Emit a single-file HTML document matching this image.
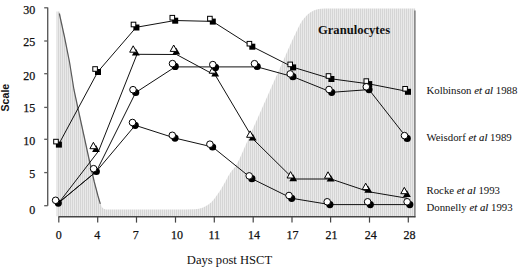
<!DOCTYPE html>
<html><head><meta charset="utf-8"><style>
html,body{margin:0;padding:0;background:#fff;}
body{width:520px;height:268px;overflow:hidden;position:relative;}
svg{position:absolute;left:0;top:0;display:block;}
text{font-family:"Liberation Serif",serif;fill:#111;}
.n{font-size:12px;stroke:#111;stroke-width:0.25px;}
.ax{font-size:12.6px;}
.sc{font-family:"Liberation Sans",sans-serif;font-size:10.6px;font-weight:bold;}
.gr{font-size:12.6px;font-weight:bold;}
.lg{font-size:10.8px;fill:#111;}
</style></head><body>
<svg width="520" height="268" viewBox="0 0 520 268">
<defs><pattern id="hp" width="2" height="3" patternUnits="userSpaceOnUse"><rect width="2" height="3" fill="#e9e9e9"/><rect width="1" height="3" fill="#d5d5d5"/></pattern></defs>
<polygon points="56.5,216.2 56.5,11.5 59.8,11.5 64.9,37.0 69.9,62.0 74.4,90.0 79.6,114.0 84.2,135.0 89.2,158.0 94.7,182.0 98.4,196.0 100.7,203.8 101.8,207.0 103.5,208.7 106.0,209.4 185.0,209.4 195.0,209.3 199.0,208.8 202.5,207.8 205.1,206.6 208.5,204.6 211.6,202.0 214.6,198.6 217.4,194.6 220.4,190.2 223.0,185.7 225.6,181.2 228.0,176.6 231.2,171.5 235.4,166.5 239.0,160.0 242.6,152.0 246.1,144.0 249.7,136.0 253.2,128.0 256.8,120.0 260.4,112.0 263.9,104.0 267.5,96.0 271.0,88.0 274.6,80.0 278.2,72.0 281.7,64.0 285.3,56.0 288.8,48.0 292.4,40.0 297.9,28.6 299.9,24.5 302.0,21.0 304.6,17.8 307.6,14.6 310.6,12.3 313.8,10.6 317.5,9.3 321.0,8.7 325.0,8.5 415.2,8.5 415.2,216.2" fill="url(#hp)"/>
<line x1="414.9" y1="10.5" x2="414.9" y2="217.3" stroke="#777" stroke-width="1.4"/>
<polyline points="59.3,13.5 64.5,37.0 69.5,62.0 74.0,90.0 79.2,114.0 83.8,135.0 88.8,158.0 94.3,182.0 98.0,196.0 100.3,203.8" fill="none" stroke="#5a5a5a" stroke-width="1.2"/>
<path d="M47.7 7.6 V205.7" stroke="#5c5c5c" stroke-width="1.4" fill="none"/>
<path d="M44.2 205.7 H47.7" stroke="#5c5c5c" stroke-width="1.3"/>
<path d="M44.2 172.6 H47.7" stroke="#5c5c5c" stroke-width="1.3"/>
<path d="M44.2 139.3 H47.7" stroke="#5c5c5c" stroke-width="1.3"/>
<path d="M44.2 107.4 H47.7" stroke="#5c5c5c" stroke-width="1.3"/>
<path d="M44.2 73.7 H47.7" stroke="#5c5c5c" stroke-width="1.3"/>
<path d="M44.2 41.0 H47.7" stroke="#5c5c5c" stroke-width="1.3"/>
<path d="M44.2 7.8 H47.7" stroke="#5c5c5c" stroke-width="1.3"/>
<path d="M58.4 216.8 H415.5" stroke="#444" stroke-width="1.4" fill="none"/>
<path d="M58.8 216.8 V222.6" stroke="#444" stroke-width="1.2"/>
<path d="M97.7 216.8 V222.6" stroke="#444" stroke-width="1.2"/>
<path d="M136.5 216.8 V222.6" stroke="#444" stroke-width="1.2"/>
<path d="M175.5 216.8 V222.6" stroke="#444" stroke-width="1.2"/>
<path d="M214.3 216.8 V222.6" stroke="#444" stroke-width="1.2"/>
<path d="M253.2 216.8 V222.6" stroke="#444" stroke-width="1.2"/>
<path d="M292.0 216.8 V222.6" stroke="#444" stroke-width="1.2"/>
<path d="M330.6 216.8 V222.6" stroke="#444" stroke-width="1.2"/>
<path d="M369.5 216.8 V222.6" stroke="#444" stroke-width="1.2"/>
<path d="M408.3 216.8 V222.6" stroke="#444" stroke-width="1.2"/>
<polyline points="58.7,144.4 97.8,71.8 136.2,27.3 175.0,20.5 212.6,21.4 252.1,46.5 292.9,67.2 331.2,78.8 369.0,83.9 407.8,91.5" fill="none" stroke="#111" stroke-width="1.0"/>
<polyline points="58.3,203.1 96.3,171.5 135.7,92.5 175.2,66.9 215.5,66.9 257.2,66.9 292.9,76.7 331.7,92.3 369.0,89.6 407.2,138.4" fill="none" stroke="#111" stroke-width="1.0"/>
<polyline points="58.3,203.1 96.3,171.5 135.2,125.3 175.0,138.1 212.6,147.0 251.9,178.7 291.7,198.3 329.9,204.6 370.3,204.6 409.8,204.6" fill="none" stroke="#111" stroke-width="1.0"/>
<polyline points="58.4,203.3 98.6,151.0 137.0,54.3 176.5,54.5 215.5,75.5 253.5,139.5 293.5,179.0 331.0,179.0 369.0,191.8 407.5,198.3" fill="none" stroke="#111" stroke-width="1.0"/>
<polygon points="96.0,145.0 92.1,151.9 99.9,151.9" fill="#000"/><polygon points="93.4,142.3 89.9,148.7 96.9,148.7" fill="#fff" stroke="#000" stroke-width="1" stroke-linejoin="miter"/>
<polygon points="135.8,48.5 131.9,55.4 139.7,55.4" fill="#000"/><polygon points="133.2,45.8 129.7,52.2 136.7,52.2" fill="#fff" stroke="#000" stroke-width="1" stroke-linejoin="miter"/>
<polygon points="176.3,47.7 172.4,54.6 180.2,54.6" fill="#000"/><polygon points="173.7,45.0 170.2,51.4 177.2,51.4" fill="#fff" stroke="#000" stroke-width="1" stroke-linejoin="miter"/>
<polygon points="215.2,69.5 211.3,76.4 219.1,76.4" fill="#000"/><polygon points="212.6,66.8 209.1,73.2 216.1,73.2" fill="#fff" stroke="#000" stroke-width="1" stroke-linejoin="miter"/>
<polygon points="252.7,133.6 248.8,140.5 256.6,140.5" fill="#000"/><polygon points="250.1,130.9 246.6,137.3 253.6,137.3" fill="#fff" stroke="#000" stroke-width="1" stroke-linejoin="miter"/>
<polygon points="293.2,174.3 289.3,181.2 297.1,181.2" fill="#000"/><polygon points="290.6,171.6 287.1,178.0 294.1,178.0" fill="#fff" stroke="#000" stroke-width="1" stroke-linejoin="miter"/>
<polygon points="330.6,174.5 326.7,181.4 334.5,181.4" fill="#000"/><polygon points="328.0,171.8 324.5,178.2 331.5,178.2" fill="#fff" stroke="#000" stroke-width="1" stroke-linejoin="miter"/>
<polygon points="368.3,185.9 364.4,192.8 372.2,192.8" fill="#000"/><polygon points="365.7,183.2 362.2,189.6 369.2,189.6" fill="#fff" stroke="#000" stroke-width="1" stroke-linejoin="miter"/>
<polygon points="406.9,190.0 403.0,196.9 410.8,196.9" fill="#000"/><polygon points="404.3,187.3 400.8,193.7 407.8,193.7" fill="#fff" stroke="#000" stroke-width="1" stroke-linejoin="miter"/>
<rect x="55.9" y="141.6" width="6.0" height="6.0" fill="#000"/><rect x="53.7" y="139.3" width="4.6" height="4.6" fill="#fff" stroke="#000" stroke-width="1"/>
<rect x="95.0" y="69.0" width="6.0" height="6.0" fill="#000"/><rect x="92.8" y="66.7" width="4.6" height="4.6" fill="#fff" stroke="#000" stroke-width="1"/>
<rect x="133.4" y="24.5" width="6.0" height="6.0" fill="#000"/><rect x="131.2" y="22.2" width="4.6" height="4.6" fill="#fff" stroke="#000" stroke-width="1"/>
<rect x="172.2" y="17.7" width="6.0" height="6.0" fill="#000"/><rect x="170.0" y="15.4" width="4.6" height="4.6" fill="#fff" stroke="#000" stroke-width="1"/>
<rect x="209.8" y="18.6" width="6.0" height="6.0" fill="#000"/><rect x="207.6" y="16.3" width="4.6" height="4.6" fill="#fff" stroke="#000" stroke-width="1"/>
<rect x="249.3" y="43.7" width="6.0" height="6.0" fill="#000"/><rect x="247.1" y="41.4" width="4.6" height="4.6" fill="#fff" stroke="#000" stroke-width="1"/>
<rect x="290.1" y="64.4" width="6.0" height="6.0" fill="#000"/><rect x="287.9" y="62.1" width="4.6" height="4.6" fill="#fff" stroke="#000" stroke-width="1"/>
<rect x="328.4" y="76.0" width="6.0" height="6.0" fill="#000"/><rect x="326.2" y="73.7" width="4.6" height="4.6" fill="#fff" stroke="#000" stroke-width="1"/>
<rect x="366.2" y="81.1" width="6.0" height="6.0" fill="#000"/><rect x="364.0" y="78.8" width="4.6" height="4.6" fill="#fff" stroke="#000" stroke-width="1"/>
<rect x="405.0" y="88.8" width="6.0" height="6.0" fill="#000"/><rect x="402.8" y="86.5" width="4.6" height="4.6" fill="#fff" stroke="#000" stroke-width="1"/>
<circle cx="135.7" cy="92.5" r="3.6" fill="#000"/><circle cx="133.0" cy="89.7" r="3.3" fill="#fff" stroke="#000" stroke-width="1"/>
<circle cx="175.2" cy="66.4" r="3.6" fill="#000"/><circle cx="172.5" cy="63.6" r="3.3" fill="#fff" stroke="#000" stroke-width="1"/>
<circle cx="215.5" cy="67.4" r="3.6" fill="#000"/><circle cx="212.8" cy="64.6" r="3.3" fill="#fff" stroke="#000" stroke-width="1"/>
<circle cx="257.2" cy="66.5" r="3.6" fill="#000"/><circle cx="254.5" cy="63.7" r="3.3" fill="#fff" stroke="#000" stroke-width="1"/>
<circle cx="292.9" cy="76.7" r="3.6" fill="#000"/><circle cx="290.2" cy="73.9" r="3.3" fill="#fff" stroke="#000" stroke-width="1"/>
<circle cx="331.7" cy="92.3" r="3.6" fill="#000"/><circle cx="329.0" cy="89.5" r="3.3" fill="#fff" stroke="#000" stroke-width="1"/>
<circle cx="369.0" cy="89.6" r="3.6" fill="#000"/><circle cx="366.3" cy="86.8" r="3.3" fill="#fff" stroke="#000" stroke-width="1"/>
<circle cx="407.2" cy="138.4" r="3.6" fill="#000"/><circle cx="404.5" cy="135.6" r="3.3" fill="#fff" stroke="#000" stroke-width="1"/>
<circle cx="58.3" cy="203.1" r="3.6" fill="#000"/><circle cx="55.6" cy="200.3" r="3.3" fill="#fff" stroke="#000" stroke-width="1"/>
<circle cx="96.3" cy="171.5" r="3.6" fill="#000"/><circle cx="93.6" cy="168.7" r="3.3" fill="#fff" stroke="#000" stroke-width="1"/>
<circle cx="135.2" cy="125.3" r="3.6" fill="#000"/><circle cx="132.5" cy="122.5" r="3.3" fill="#fff" stroke="#000" stroke-width="1"/>
<circle cx="175.0" cy="138.1" r="3.6" fill="#000"/><circle cx="172.3" cy="135.3" r="3.3" fill="#fff" stroke="#000" stroke-width="1"/>
<circle cx="212.6" cy="147.0" r="3.6" fill="#000"/><circle cx="209.9" cy="144.2" r="3.3" fill="#fff" stroke="#000" stroke-width="1"/>
<circle cx="251.9" cy="178.7" r="3.6" fill="#000"/><circle cx="249.2" cy="175.9" r="3.3" fill="#fff" stroke="#000" stroke-width="1"/>
<circle cx="291.7" cy="198.3" r="3.6" fill="#000"/><circle cx="289.0" cy="195.5" r="3.3" fill="#fff" stroke="#000" stroke-width="1"/>
<circle cx="329.9" cy="204.6" r="3.6" fill="#000"/><circle cx="327.2" cy="201.8" r="3.3" fill="#fff" stroke="#000" stroke-width="1"/>
<circle cx="370.3" cy="204.6" r="3.6" fill="#000"/><circle cx="367.6" cy="201.8" r="3.3" fill="#fff" stroke="#000" stroke-width="1"/>
<circle cx="409.8" cy="204.6" r="3.6" fill="#000"/><circle cx="407.1" cy="201.8" r="3.3" fill="#fff" stroke="#000" stroke-width="1"/>
<text x="35.3" y="213.6" text-anchor="end" class="n">0</text>
<text x="35.3" y="177.8" text-anchor="end" class="n">5</text>
<text x="35.3" y="144.5" text-anchor="end" class="n">10</text>
<text x="35.3" y="112.4" text-anchor="end" class="n">15</text>
<text x="35.3" y="79.7" text-anchor="end" class="n">20</text>
<text x="35.3" y="46.0" text-anchor="end" class="n">25</text>
<text x="35.3" y="13.9" text-anchor="end" class="n">30</text>
<text x="58.7" y="239" text-anchor="middle" class="n">0</text>
<text x="97.3" y="239" text-anchor="middle" class="n">4</text>
<text x="135.8" y="239" text-anchor="middle" class="n">7</text>
<text x="177.1" y="239" text-anchor="middle" class="n">10</text>
<text x="214.3" y="239" text-anchor="middle" class="n">11</text>
<text x="254.1" y="239" text-anchor="middle" class="n">14</text>
<text x="292.4" y="239" text-anchor="middle" class="n">17</text>
<text x="331.6" y="239" text-anchor="middle" class="n">21</text>
<text x="370.8" y="239" text-anchor="middle" class="n">24</text>
<text x="409.4" y="239" text-anchor="middle" class="n">28</text>
<text x="229.5" y="264.3" text-anchor="middle" class="ax">Days post HSCT</text>
<text transform="translate(9.2 97.6) rotate(-90)" text-anchor="middle" class="sc">Scale</text>
<text x="354" y="33.7" text-anchor="middle" class="gr">Granulocytes</text>
<text x="426.5" y="93.8" class="lg">Kolbinson <tspan font-style="italic" stroke="#111" stroke-width="0.12">et al</tspan> 1988</text>
<text x="426.5" y="140.8" class="lg">Weisdorf <tspan font-style="italic" stroke="#111" stroke-width="0.12">et al</tspan> 1989</text>
<text x="426.5" y="194" class="lg">Rocke <tspan font-style="italic" stroke="#111" stroke-width="0.12">et al</tspan> 1993</text>
<text x="426.5" y="211" class="lg">Donnelly <tspan font-style="italic" stroke="#111" stroke-width="0.12">et al</tspan> 1993</text>
</svg>
</body></html>
